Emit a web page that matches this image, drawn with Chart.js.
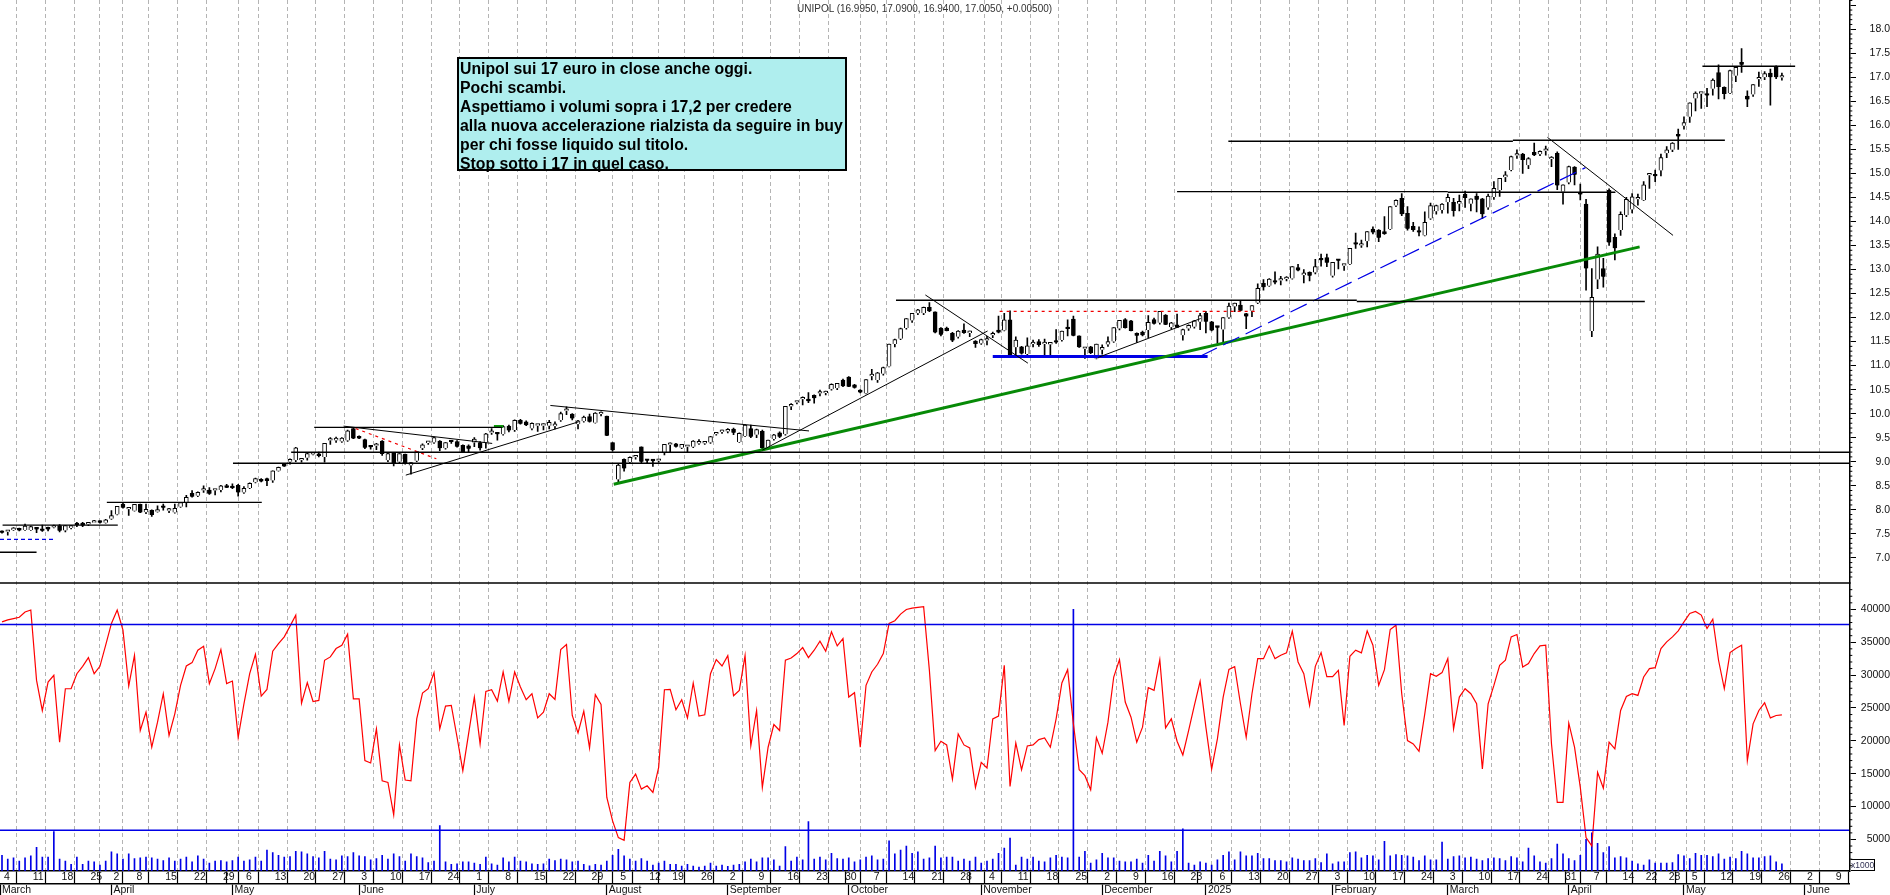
<!DOCTYPE html>
<html><head><meta charset="utf-8">
<script src="https://cdn.jsdelivr.net/npm/chart.js@4/dist/chart.umd.min.js"></script>
<style>
html,body{margin:0;padding:0;background:#fff;overflow:hidden}
#wrap{position:relative;width:1890px;height:895px}
#title{position:absolute;left:797px;top:3px;font:10px "Liberation Sans",sans-serif;color:#333;white-space:nowrap}
#note{position:absolute;left:457px;top:57px;width:385px;height:110px;padding:0 0 0 1px;background:#afeeee;border:2px solid #000;font:bold 15.8px/19px "Liberation Sans",sans-serif;color:#000;white-space:pre}
#unit{position:absolute;left:1851px;top:859px;width:23px;height:10px;border:1px solid #000;border-left:none;font:8.5px/10px "Liberation Sans",sans-serif;color:#335;text-align:center}
</style></head><body><div id="wrap">
<canvas id="c" width="1890" height="895" style="display:block"></canvas>
<div id="title">UNIPOL (16.9950, 17.0900, 16.9400, 17.0050, +0.00500)</div>
<div id="note">Unipol sui 17 euro in close anche oggi.
Pochi scambi.
Aspettiamo i volumi sopra i 17,2 per credere
alla nuova accelerazione rialzista da seguire in buy
per chi fosse liquido sul titolo.
Stop sotto i 17 in quel caso.</div>
<div id="unit">x1000</div>
</div>
<script>
// open, high, low, close per trading session
const ohlc=[
[7.55,7.56,7.51,7.52],[7.54,7.56,7.47,7.54],[7.58,7.63,7.57,7.59],[7.59,7.62,7.56,7.57],[7.58,7.70,7.57,7.66],
[7.58,7.66,7.57,7.65],[7.62,7.63,7.52,7.59],[7.60,7.68,7.55,7.56],[7.61,7.64,7.56,7.59],[7.63,7.68,7.62,7.63],
[7.67,7.69,7.54,7.56],[7.57,7.67,7.54,7.67],[7.62,7.67,7.60,7.67],[7.70,7.74,7.65,7.68],[7.72,7.74,7.65,7.67],
[7.69,7.74,7.67,7.74],[7.73,7.78,7.73,7.73],[7.76,7.77,7.72,7.73],[7.73,7.80,7.72,7.79],[7.81,7.98,7.80,7.88],
[7.90,8.07,7.89,8.07],[8.12,8.15,8.03,8.04],[8.01,8.02,7.88,8.01],[7.98,8.11,7.97,8.11],[8.11,8.12,7.94,7.94],
[7.95,8.12,7.92,8.01],[7.99,8.0,7.86,7.89],[7.96,8.08,7.95,7.96],[8.08,8.12,7.99,8.04],[7.98,8.03,7.94,7.98],
[7.94,8.12,7.93,8.03],[8.06,8.15,8.05,8.15],[8.15,8.30,8.06,8.26],[8.34,8.40,8.26,8.27],[8.29,8.37,8.27,8.36],
[8.40,8.50,8.36,8.40],[8.41,8.46,8.32,8.33],[8.40,8.41,8.31,8.40],[8.41,8.51,8.37,8.50],[8.48,8.53,8.46,8.46],
[8.49,8.54,8.44,8.45],[8.51,8.53,8.28,8.36],[8.36,8.48,8.34,8.445],[8.45,8.56,8.44,8.55],[8.57,8.66,8.56,8.65],
[8.63,8.65,8.58,8.59],[8.65,8.66,8.50,8.60],[8.61,8.81,8.57,8.81],[8.81,8.89,8.80,8.88],[8.95,8.96,8.90,8.90],
[9.0,9.06,8.95,9.05],[9.03,9.30,9.0,9.29],[9.03,9.05,8.99,9.04],[9.08,9.18,9.03,9.17],[9.15,9.17,9.14,9.16],
[9.14,9.20,9.10,9.12],[9.10,9.38,8.99,9.38],[9.44,9.50,9.36,9.44],[9.44,9.51,9.40,9.49],[9.42,9.50,9.40,9.49],
[9.44,9.66,9.42,9.64],[9.69,9.71,9.48,9.48],[9.53,9.54,9.48,9.48],[9.46,9.47,9.27,9.29],[9.31,9.33,9.26,9.30],
[9.33,9.38,9.25,9.37],[9.43,9.44,9.13,9.16],[9.03,9.18,9.00,9.17],[9.19,9.19,8.91,8.97],[9.0,9.17,8.98,9.17],
[9.16,9.16,8.95,8.97],[8.92,8.98,8.74,8.98],[9.02,9.21,9.0,9.21],[9.28,9.37,9.25,9.35],[9.39,9.42,9.36,9.39],
[9.40,9.51,9.38,9.50],[9.43,9.44,9.23,9.28],[9.28,9.40,9.26,9.40],[9.42,9.44,9.38,9.41],[9.42,9.44,9.30,9.31],
[9.34,9.35,9.20,9.20],[9.33,9.35,9.21,9.27],[9.40,9.50,9.31,9.47],[9.40,9.42,9.24,9.28],[9.40,9.59,9.28,9.58],
[9.60,9.69,9.57,9.61],[9.59,9.60,9.45,9.57],[9.57,9.75,9.55,9.73],[9.74,9.76,9.62,9.65],[9.66,9.87,9.63,9.86],
[9.86,9.88,9.78,9.79],[9.83,9.85,9.75,9.76],[9.69,9.81,9.66,9.80],[9.75,9.78,9.63,9.75],[9.75,9.79,9.66,9.76],
[9.75,9.86,9.68,9.82],[9.74,9.83,9.68,9.79],[9.86,10.03,9.84,10.0],[10.06,10.14,9.98,10.06],[9.99,10.0,9.87,9.90],
[9.78,9.86,9.68,9.85],[9.84,9.95,9.82,9.93],[9.94,9.99,9.82,9.83],[9.81,10.02,9.80,10.01],[9.99,10.04,9.95,9.99],
[9.95,9.95,9.54,9.54],[9.40,9.40,9.22,9.24],[8.63,8.96,8.56,8.93],[9.05,9.06,8.80,8.86],[8.99,9.10,8.97,9.09],
[9.09,9.13,9.05,9.10],[9.31,9.31,8.96,9.00],[9.03,9.05,8.98,9.02],[9.03,9.04,8.90,9.01],[9.02,9.04,8.99,9.03],
[9.19,9.36,9.14,9.36],[9.35,9.39,9.20,9.38],[9.37,9.38,9.30,9.31],[9.29,9.36,9.27,9.36],[9.31,9.32,9.20,9.31],
[9.31,9.44,9.29,9.43],[9.38,9.46,9.36,9.38],[9.38,9.40,9.36,9.39],[9.40,9.53,9.38,9.52],[9.57,9.61,9.55,9.61],
[9.62,9.66,9.59,9.62],[9.63,9.69,9.60,9.67],[9.68,9.70,9.56,9.60],[9.41,9.60,9.40,9.59],[9.53,9.77,9.52,9.76],
[9.69,9.76,9.50,9.52],[9.56,9.68,9.50,9.67],[9.63,9.66,9.27,9.28],[9.30,9.45,9.28,9.45],[9.47,9.57,9.45,9.56],
[9.60,9.62,9.50,9.52],[9.57,10.15,9.55,10.15],[10.15,10.21,10.08,10.19],[10.23,10.25,10.20,10.23],[10.30,10.35,10.18,10.30],
[10.27,10.44,10.23,10.26],[10.38,10.39,10.22,10.32],[10.42,10.49,10.37,10.42],[10.43,10.47,10.39,10.44],[10.51,10.62,10.49,10.61],
[10.53,10.63,10.50,10.63],[10.70,10.72,10.56,10.57],[10.76,10.77,10.56,10.56],[10.60,10.61,10.53,10.54],[10.49,10.50,10.43,10.44],
[10.42,10.71,10.41,10.71],[10.78,10.92,10.70,10.78],[10.70,10.86,10.65,10.85],[10.83,10.97,10.80,10.96],[10.98,11.45,10.97,11.45],
[11.45,11.55,11.39,11.54],[11.56,11.78,11.54,11.77],[11.78,11.98,11.76,11.98],[11.94,12.09,11.90,12.09],[12.09,12.17,12.06,12.16],
[12.09,12.22,12.06,12.21],[12.21,12.31,12.12,12.13],[12.12,12.12,11.68,11.69],[11.78,11.79,11.62,11.64],[11.78,11.80,11.72,11.72],
[11.67,11.69,11.50,11.52],[11.60,11.73,11.57,11.72],[11.74,11.87,11.67,11.68],[11.68,11.72,11.60,11.68],[11.51,11.52,11.38,11.45],
[11.46,11.55,11.44,11.54],[11.52,11.61,11.43,11.52],[11.63,11.70,11.58,11.64],[11.74,12.03,11.68,11.69],[11.73,12.09,11.72,11.95],
[11.95,12.14,11.20,11.20],[11.38,11.60,11.20,11.53],[11.39,11.40,11.24,11.25],[11.24,11.58,11.22,11.41],[11.45,11.53,11.39,11.45],
[11.50,11.54,11.40,11.43],[11.45,11.55,11.20,11.45],[11.44,11.45,11.20,11.44],[11.52,11.75,11.46,11.48],[11.53,11.72,11.51,11.72],
[11.79,11.95,11.62,11.76],[11.97,12.03,11.62,11.62],[11.62,11.62,11.38,11.38],[11.35,11.37,11.15,11.35],[11.39,11.40,11.25,11.26],
[11.15,11.45,11.14,11.45],[11.33,11.43,11.24,11.38],[11.44,11.60,11.40,11.50],[11.50,11.79,11.48,11.79],[11.77,11.94,11.74,11.94],
[11.96,11.98,11.78,11.78],[11.93,11.94,11.72,11.72],[11.67,11.68,11.48,11.62],[11.70,11.72,11.62,11.63],[11.74,12.04,11.58,11.90],
[11.96,11.99,11.86,11.87],[11.89,12.13,11.86,12.13],[12.05,12.06,11.85,11.85],[11.80,11.90,11.76,11.89],[11.85,12.07,11.79,11.79],
[11.63,11.76,11.53,11.75],[11.77,11.85,11.73,11.84],[11.81,11.94,11.78,11.93],[11.91,12.09,11.75,12.04],[12.09,12.13,11.68,11.91],
[11.91,11.92,11.72,11.73],[11.80,11.81,11.46,11.79],[11.75,12.0,11.46,12.0],[12.0,12.30,11.98,12.24],[12.23,12.30,12.12,12.30],
[12.26,12.35,12.14,12.14],[12.08,12.09,11.77,12.02],[12.14,12.25,12.02,12.25],[12.31,12.70,12.29,12.61],[12.71,12.79,12.57,12.63],
[12.66,12.81,12.65,12.80],[12.77,12.95,12.70,12.73],[12.77,12.86,12.68,12.77],[12.80,12.85,12.76,12.80],[12.81,13.06,12.80,13.06],
[13.04,13.11,12.97,12.98],[12.88,13.0,12.72,12.93],[12.94,12.95,12.76,12.87],[12.94,13.21,12.91,13.06],[13.21,13.32,13.07,13.19],
[13.25,13.32,13.06,13.14],[12.87,13.15,12.84,13.15],[13.19,13.19,13.01,13.18],[13.08,13.11,12.98,13.08],[13.11,13.44,13.10,13.44],
[13.54,13.76,13.44,13.52],[13.50,13.61,13.46,13.51],[13.59,13.79,13.47,13.79],[13.84,13.89,13.74,13.77],[13.82,13.83,13.58,13.66],
[13.79,14.10,13.73,13.74],[13.84,14.31,13.83,14.31],[14.33,14.45,14.31,14.44],[14.48,14.58,14.12,14.15],[14.17,14.31,13.82,13.85],
[13.90,13.98,13.79,13.82],[13.81,13.89,13.70,13.77],[13.71,14.20,13.70,13.98],[14.06,14.38,14.04,14.33],[14.21,14.34,14.15,14.33],
[14.24,14.37,14.17,14.36],[14.40,14.57,14.17,14.50],[14.40,14.48,14.11,14.22],[14.37,14.55,14.22,14.42],[14.57,14.63,14.29,14.49],
[14.37,14.47,14.22,14.47],[14.53,14.58,14.20,14.45],[14.47,14.48,14.06,14.15],[14.29,14.57,14.25,14.53],[14.51,14.83,14.46,14.69],
[14.65,14.90,14.52,14.90],[14.92,15.04,14.83,14.97],[15.07,15.36,15.05,15.35],[15.37,15.49,15.31,15.37],[15.40,15.42,15.0,15.28],
[15.17,15.33,15.10,15.31],[15.44,15.63,15.37,15.38],[15.40,15.47,15.37,15.46],[15.47,15.57,15.38,15.47],[15.30,15.35,15.14,15.30],
[15.42,15.45,14.66,14.75],[14.62,14.76,14.36,14.76],[14.81,15.15,14.78,15.14],[15.13,15.14,14.76,14.97],[14.57,14.78,14.45,14.56],
[14.36,14.46,12.57,13.02],[11.72,13.02,11.60,12.42],[12.79,13.47,12.60,13.32],[13.02,13.23,12.63,12.85],[14.65,14.68,13.50,13.56],
[13.67,13.74,13.20,13.44],[13.82,14.20,13.71,14.15],[14.13,14.50,14.10,14.46],[14.25,14.58,14.18,14.51],[14.46,14.57,14.34,14.50],
[14.44,14.83,14.43,14.76],[14.96,14.97,14.69,14.96],[14.97,15.07,14.83,14.94],[15.06,15.40,14.95,15.33],[15.42,15.56,15.33,15.49],
[15.49,15.64,15.45,15.63],[15.80,15.92,15.50,15.77],[15.99,16.18,15.92,16.06],[16.18,16.47,16.06,16.47],[16.56,16.70,16.30,16.67],
[16.66,16.67,16.35,16.66],[16.66,16.77,16.39,16.62],[16.76,16.97,16.63,16.94],[17.10,17.26,16.55,16.80],[16.79,16.80,16.55,16.65],
[16.67,17.15,16.66,17.14],[17.03,17.22,16.91,17.21],[17.31,17.60,17.10,17.26],[16.61,16.72,16.39,16.54],[16.64,16.85,16.60,16.85],
[16.96,17.11,16.81,17.0],[17.0,17.12,16.95,17.08],[17.09,17.17,16.42,17.0],[17.22,17.24,16.97,17.0],[16.995,17.09,16.94,17.005]
];
// red oscillator, same session order
const oscillator=[
38100,38400,38600,38800,39600,39900,29200,24600,28950,29970,19790,27930,27930,30220,31340,32670,30220,31340,34550,37860,
39890,36840,28340,33020,21570,24370,19030,22840,27170,20810,24110,28440,31390,31900,33790,34400,28700,30990,33890,28700,
29100,20550,25640,30220,33170,26810,27830,33630,34800,35820,37450,39130,25740,28850,25990,26150,32260,32770,34040,34550,
36230,26400,26400,16990,16630,21820,13930,13680,8740,19380,14040,13930,23350,27270,27930,30380,21820,25290,25390,20550,
15460,21060,26660,19530,27520,27780,26050,30480,25990,30480,28190,26250,27170,23500,24370,27170,26300,33890,34650,23860,
21210,24520,18920,27020,25540,11390,7830,5280,4870,13680,14950,12660,13170,12150,15970,27780,27830,24730,26250,23500,
28800,23760,23960,30220,32360,31390,32970,26860,27680,32970,19280,24620,12920,19030,22490,21570,32260,32610,33280,34190,
32670,33790,35160,33630,36590,34450,35570,26660,27320,19030,28440,30480,31650,33280,37860,38270,39280,39990,40200,40300,
40400,30730,18520,19940,19380,14190,21060,19380,18920,12920,16730,15870,23350,23760,31490,13070,19690,15610,19230,19380,
20190,20450,19030,23350,28800,30830,22590,15610,14700,12560,20500,18110,22840,29710,32360,25900,23600,19790,22080,28080,
27680,32360,21980,23350,19940,17850,21570,25390,29050,22080,15720,20300,26660,30880,31290,25640,20550,27170,32510,32510,
34450,32510,33020,33380,36690,32000,30220,25390,31340,33430,29760,29760,30730,22330,32870,33790,33380,36740,34550,28440,
30830,36940,37600,27170,20040,19530,18410,24110,30220,29810,30380,32510,21820,26660,27930,27170,25640,15720,25640,28440,
31490,32260,35820,36180,31240,31750,33280,34450,34550,19530,10630,10630,22690,19030,12920,5280,4010,15210,12810,19790,
18770,24620,26760,27170,26910,29710,30990,31140,34040,35060,35820,36740,38110,39380,39690,39130,37100,38520,32260,27930,
33430,34040,34550,16990,22590,24620,25790,23500,23860,23960
];
// blue volume spikes, same session order
const volume=[
2600,2000,2200,1700,2200,2500,3800,2300,2300,6200,2000,1700,1200,2300,1200,1700,1600,1100,1700,3100,2800,2000,2800,2100,2200,2300,2200,2000,1800,2200,
1700,2000,2300,1600,2500,2000,1400,1700,1800,1600,1800,2300,1700,1900,2300,1700,3400,3000,2600,2300,2400,3200,3100,2800,2400,2200,3200,2000,1900,2500,
2400,3000,2500,2400,1900,2100,2600,2000,2800,2400,1700,2800,2400,2200,1500,1700,7100,1600,1200,1300,1600,1600,1400,1200,2300,1300,1100,2200,1600,2300,
1700,1600,1300,1200,1300,2000,1800,2000,1900,1600,1700,1200,1000,1200,1100,1700,2600,3500,2500,
2000,1700,2100,1700,1100,1400,1700,1200,1200,950,1200,950,800,950,1400,950,1100,900,1100,1200,1600,2000,1600,2200,2200,1900,950,3900,1700,2300,1900,7700,
2000,2300,1900,2900,2100,2000,2200,1600,1900,2300,2500,1900,2000,4800,2800,3400,4000,2900,3100,2000,2200,4000,2200,2300,2300,1700,2000,1700,2300,1400,
1700,2000,2900,3700,5200,1100,2300,2000,2300,1700,1600,2200,2600,2300,2200,40000,2300,3200,1400,1900,2900,2200,2200,1700,1600,1600,2000,1400,2600,1700,
3200,2500,1600,3200,6600,1400,1100,1600,1400,1100,1900,2600,3100,1900,3100,2500,2500,2900,
2100,2100,1800,1800,1600,2200,2000,1800,1800,2100,1500,2800,1300,1600,1600,3000,3100,2200,2600,2500,1900,4700,2500,2700,2600,2500,2300,1800,2500,1900,
1900,4600,2000,2400,2500,2200,2300,2000,1800,2100,2200,2100,1800,2400,2200,1600,3700,2500,1600,1400,2100,4300,2800,2100,1800,2600,5000,6000,4400,3000,
3900,2200,2400,2200,1700,1300,1100,1900,1400,1400,1400,1500,2700,2500,2100,2900,2600,2600,2400,2800,2000,2300,2100,3200,2800,2200,2200,2400,2500,1600,1300
];
if(ohlc.length!==310||oscillator.length!==310||volume.length!==310) throw new Error('lengths '+ohlc.length+' '+oscillator.length+' '+volume.length);
// session index of weekly ticks and their day-of-month labels
const dayTickIndex=[0,5,10,15,19,23,28,33,38,42,47,52,57,62,67,72,77,82,87,92,97,102,107,112,116,121,126,131,136,141,146,151,156,161,166,171,176,181,186,191,196,201,206,211,216,221,226,231,236,241,246,251,256,261,266,271,276,281,285,289,293,298,303,308,313,318];
const dayTickText=['4','11','18','25','2','8','15','22','29','6','13','20','27','3','10','17','24','1','8','15','22','29','5','12','19','26','2','9','16','23','30','7','14','21','28','4','11','18','25','2','9','16','23','6','13','20','27','3','10','17','24','3','10','17','24','31','7','14','22','28','5','12','19','26','2','9'];
const monthStartIndex=[40,105,147,170,209,272,292];
const monthTickIndex=[-0.347,19,40,62,82,105,126,147,170,191,209,231,251,272,292,313];
const monthTickText=['March','April','May','June','July','August','September','October','November','December','2025','February','March','April','May','June'];
const priceTicks=[7,7.5,8,8.5,9,9.5,10,10.5,11,11.5,12,12.5,13,13.5,14,14.5,15,15.5,16,16.5,17,17.5,18,18.5];
const oscTicks=[5000,10000,15000,20000,25000,30000,35000,40000];
// drawn lines: [session, price, session, price]
const END=320.7, START=-0.347;
const blackLevels=[[0.1,7.68,20.1,7.68],[START,7.115,6,7.115],[18.2,8.154,45.1,8.154],[40.1,8.966,END,8.966],[50.2,9.195,END,9.195],[54.2,9.715,86.8,9.715],[155.2,12.36,235.2,12.36],[235.2,12.335,285.2,12.335],[204,14.62,251,14.62],[251,14.607,280.1,14.607],[212.9,15.67,262.3,15.67],[262.3,15.69,299.1,15.69],[295.2,17.23,311.3,17.23]];
const blackTrends=[[59.3,9.74,85.1,9.38],[70.1,8.72,100.1,9.83],[95.2,10.17,140.1,9.64],[132,9.24,171.1,11.72],[160.3,12.47,178.1,11.05],[190.3,11.17,208.1,11.98],[268.3,15.75,290.1,13.71]];
const redDashed=[[61.4,9.69,75.4,9.06],[173.2,12.13,217.9,12.13]];
const blueDashedLong=[[208.1,11.20,274.9,15.12]];
const blueDashedShort=[[START,7.385,8.9,7.385]];
const greenTrend=[[106.2,8.53,284.3,13.47]];
const blueSupport=[[172,11.19,209.3,11.19]];
const greenArrow=[[85.4,9.73,87,9.73]];
const oscLevels=[[START,37700,END,37700],[START,6400,END,6400]];

const idx=ohlc.map((_,i)=>i);
function seg(list,o){return list.map(s=>Object.assign({type:'line',data:[{x:s[0],y:s[1]},{x:s[2],y:s[3]}],pointRadius:0,tension:0,order:0,xAxisID:'x',yAxisID:'y'},o));}
const FONT={family:'"Liberation Sans",sans-serif',size:10.5};
const datasets=[
 {type:'line',data:idx.map(i=>({x:i,y:oscillator[i]})),borderColor:'#ff0000',borderWidth:1.2,pointRadius:0,tension:0,yAxisID:'yOsc',xAxisID:'x',order:1},
 {type:'bar',data:idx.map(i=>({x:i,y:volume[i]})),backgroundColor:'#0000e6',barThickness:1,grouped:false,yAxisID:'yOsc',xAxisID:'x',order:3},
 {type:'bar',data:idx.map(i=>({x:i,y:[ohlc[i][2],ohlc[i][1]]})),backgroundColor:'#000',barThickness:1,grouped:false,yAxisID:'y',xAxisID:'x',order:3},
 {type:'bar',data:idx.map(i=>({x:i,y:[ohlc[i][0],ohlc[i][3]]})),backgroundColor:idx.map(i=>ohlc[i][3]>=ohlc[i][0]?'#fff':'#000'),borderColor:'#000',borderWidth:1,barThickness:4,minBarLength:2,grouped:false,yAxisID:'y',xAxisID:'x',order:2},
 ...seg(blackLevels,{borderColor:'#000',borderWidth:1.4}),
 ...seg(blackTrends,{borderColor:'#000',borderWidth:1}),
 ...seg(redDashed,{borderColor:'#f00000',borderWidth:1.2,borderDash:[3,4]}),
 ...seg(blueDashedLong,{borderColor:'#0000e6',borderWidth:1.2,borderDash:[18,7]}),
 ...seg(blueDashedShort,{borderColor:'#0000e6',borderWidth:1.3,borderDash:[4,3]}),
 ...seg(greenTrend,{borderColor:'#078a07',borderWidth:3}),
 ...seg(blueSupport,{borderColor:'#0000e6',borderWidth:3}),
 ...seg(greenArrow,{borderColor:'#0a9a0a',borderWidth:3}),
 ...seg(oscLevels,{borderColor:'#0000e6',borderWidth:1.4,yAxisID:'yOsc'})
];
// minor axis ticks and the panel divider, placed through the chart's own scales
const axisChrome={id:'axisChrome',afterDraw(ch){
 const g=ch.ctx,y=ch.scales.y,o=ch.scales.yOsc,a=ch.chartArea;
 g.save();g.strokeStyle='#000';g.lineWidth=1.4;
 g.beginPath();g.moveTo(a.left,y.bottom);g.lineTo(a.right,y.bottom);g.stroke();
 g.lineWidth=1;g.beginPath();
 for(let t=65;t<=186;t++){const p=y.getPixelForValue(t/10);if(t%5){g.moveTo(a.right,p);g.lineTo(a.right+3,p);}}
 for(let t=1;t<=43;t++){const p=o.getPixelForValue(t*1000);if(t%5&&p<=o.bottom){g.moveTo(a.right,p);g.lineTo(a.right+3,p);}}
 g.stroke();g.restore();
}};
function noPad(s){s.paddingLeft=0;s.paddingRight=0;s.paddingTop=0;s.paddingBottom=0;}
new Chart(document.getElementById('c'),{
 data:{datasets},
 plugins:[axisChrome],
 options:{responsive:false,animation:false,devicePixelRatio:1,events:[],
  layout:{padding:0},
  plugins:{legend:{display:false},title:{display:false},tooltip:{enabled:false}},
  scales:{
   x:{type:'linear',position:'bottom',min:START,max:END,weight:0,offset:false,
    afterBuildTicks(s){s.ticks=[...dayTickIndex,...monthStartIndex].sort((a,b)=>a-b).map(v=>({value:v}));},
    afterFit(s){s.height=12.5;noPad(s);},
    ticks:{autoSkip:false,maxRotation:0,minRotation:0,align:'start',padding:-12.5,labelOffset:2,font:FONT,color:'#111',
     callback(v){const k=dayTickIndex.indexOf(v);return k<0?'':dayTickText[k];}},
    grid:{color:c=>c.tick&&dayTickIndex.includes(c.tick.value)?'#b4b4b4':'rgba(0,0,0,0)',lineWidth:1,
     tickColor:'#000',tickWidth:1.2,tickLength:12.5,tickBorderDash:[]},
    border:{display:true,color:'#000',width:1.5,dash:[4,3]}},
   xM:{type:'linear',position:'bottom',min:START,max:END,weight:1,offset:false,
    afterBuildTicks(s){s.ticks=monthTickIndex.map(v=>({value:v}));},
    afterFit(s){s.height=11.5;noPad(s);},
    ticks:{autoSkip:false,maxRotation:0,minRotation:0,align:'start',padding:-11.5,labelOffset:2,font:FONT,color:'#111',
     callback(v){const k=monthTickIndex.indexOf(v);return k<0?'':monthTickText[k];}},
    grid:{drawOnChartArea:false,tickColor:'#000',tickWidth:1.2,tickLength:11.5},
    border:{display:true,color:'#000',width:1.5}},
   y:{type:'linear',position:'right',stack:'right',stackWeight:583,min:6.475,max:18.609,offset:false,
    afterBuildTicks(s){s.ticks=priceTicks.map(v=>({value:v}));},
    afterFit(s){s.width=40.7;noPad(s);},
    ticks:{autoSkip:false,padding:11,crossAlign:'far',font:FONT,color:'#111',
     callback(v){return v===18.5?'':v.toFixed(1);}},
    grid:{drawOnChartArea:false,tickColor:'#000',tickWidth:1,tickLength:6.7},
    border:{display:true,color:'#000',width:1.5}},
   yOsc:{type:'linear',position:'right',stack:'right',stackWeight:288,min:200,max:44015,offset:false,
    afterBuildTicks(s){s.ticks=oscTicks.map(v=>({value:v}));},
    afterFit(s){s.width=40.7;noPad(s);},
    ticks:{autoSkip:false,padding:3,crossAlign:'far',font:FONT,color:'#111',callback(v){return String(v);}},
    grid:{drawOnChartArea:false,tickColor:'#000',tickWidth:1,tickLength:6.7},
    border:{display:true,color:'#000',width:1.5}}
  }
 }
});
</script></body></html>
